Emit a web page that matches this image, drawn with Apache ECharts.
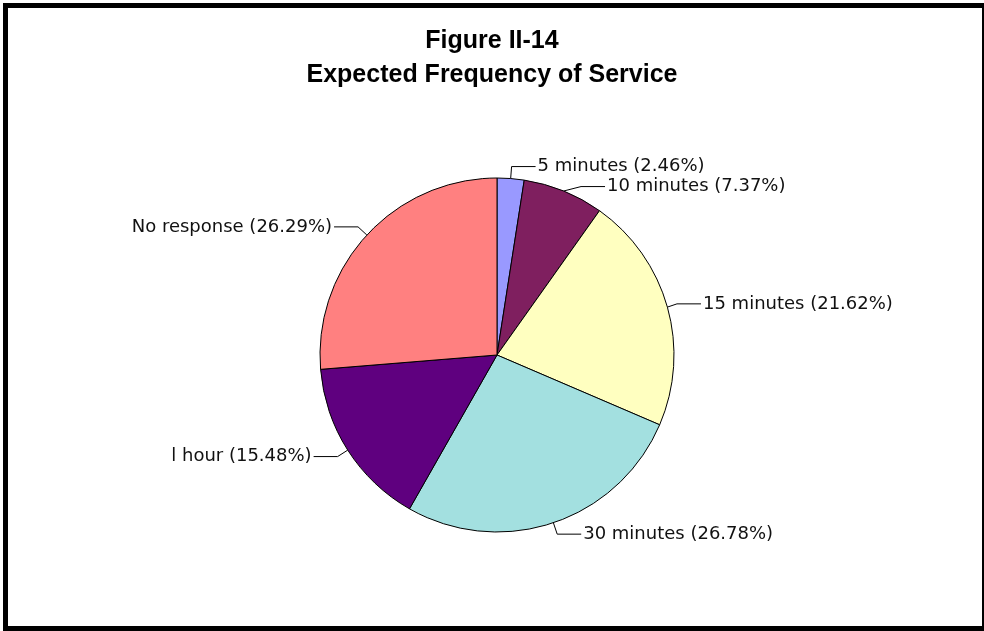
<!DOCTYPE html>
<html>
<head>
<meta charset="utf-8">
<script src="https://cdn.jsdelivr.net/npm/echarts@6/dist/echarts.min.js"></script>
<style>
html,body{margin:0;padding:0;background:#fff;}
#chart{width:984px;height:631px;}
</style>
</head>
<body>
<div id="chart"></div>
<script>
const titleLines = ['Figure II-14', 'Expected Frequency of Service'];
const categories = ['5 minutes', '10 minutes', '15 minutes', '30 minutes', 'l hour', 'No response'];
const values = [2.46, 7.37, 21.62, 26.78, 15.48, 26.29];
const colors = ['#9999FF', '#7F1F5F', '#FFFFC0', '#A3E0E0', '#5F007F', '#FF8080'];

const chart = echarts.init(document.getElementById('chart'), null, {renderer: 'canvas'});
const data = categories.map((c, i) => ({name: c, value: values[i], itemStyle: {color: colors[i]}}));

chart.setOption({
  animation: false,
  backgroundColor: '#fff',
  title: {
    text: titleLines.join('\n'),
    left: 'center',
    top: 19,
    textStyle: {fontFamily: 'Liberation Sans, Arial, sans-serif', fontWeight: 'bold', fontSize: 25, lineHeight: 34, color: '#000'}
  },
  graphic: [
    {type: 'rect', shape: {x: 3, y: 3, width: 5, height: 628}, style: {fill: '#000'}},
    {type: 'rect', shape: {x: 3, y: 3, width: 981, height: 5}, style: {fill: '#000'}},
    {type: 'rect', shape: {x: 982, y: 3, width: 2, height: 628}, style: {fill: '#000'}},
    {type: 'rect', shape: {x: 3, y: 626, width: 981, height: 5}, style: {fill: '#000'}}
  ],
  series: [{
    type: 'pie',
    center: [497, 355],
    radius: 177,
    startAngle: 90,
    clockwise: true,
    avoidLabelOverlap: true,
    data: data,
    itemStyle: {borderColor: '#000', borderWidth: 1},
    label: {
      show: true,
      position: 'outside',
      formatter: p => p.name + ' (' + p.value.toFixed(2) + '%)',
      fontFamily: 'DejaVu Sans, sans-serif',
      fontSize: 18,
      color: '#111',
      distanceToLabelLine: 2
    },
    labelLine: {show: true, length: 12, length2: 24, lineStyle: {color: '#000', width: 1}},
    emphasis: {disabled: true}
  }]
});
</script>
</body>
</html>
